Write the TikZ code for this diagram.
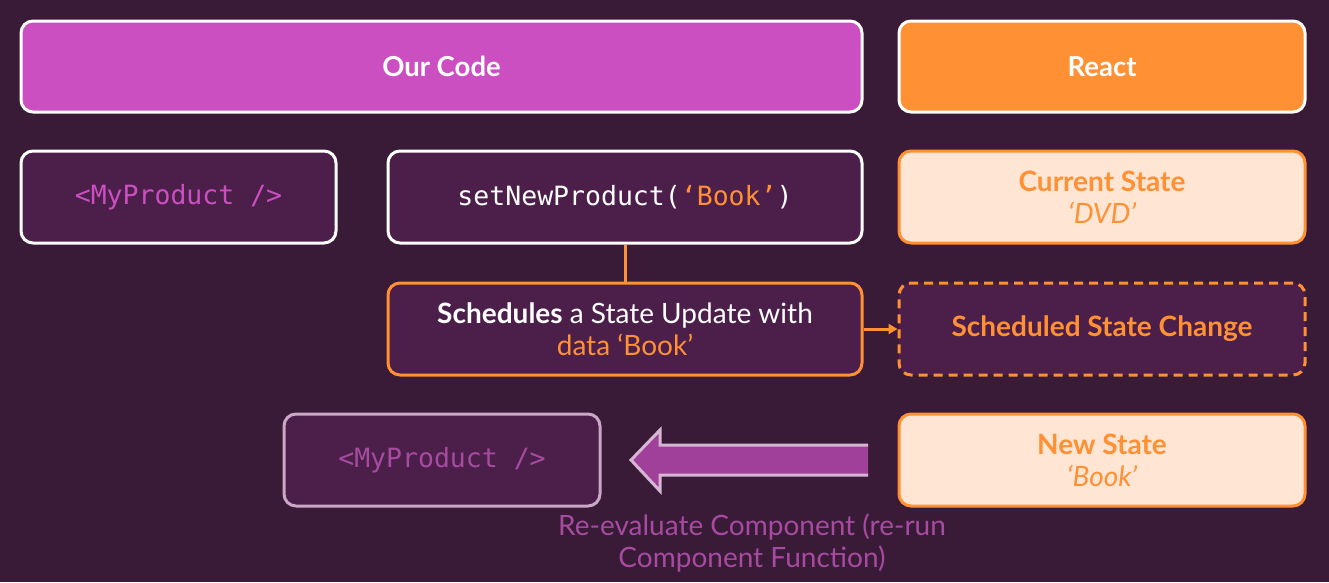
\documentclass[tikz,border=0pt]{standalone}
\usepackage{fontspec}
\setmainfont{Lato}
\setmonofont{DejaVu Sans Mono}
\usetikzlibrary{arrows.meta}
\definecolor{bg}{HTML}{391A37}
\definecolor{boxfill}{HTML}{4B1F4A}
\definecolor{mag}{HTML}{CB4FC1}
\definecolor{org}{HTML}{FF9033}
\definecolor{peach}{HTML}{FFE5D4}
\definecolor{dimline}{HTML}{C9A8C6}
\definecolor{dimtext}{HTML}{A64BA0}
\definecolor{arrfill}{HTML}{A0409A}
\definecolor{arrline}{HTML}{D5B6D3}
\tikzset{
  x=1pt, y=-1pt,
  basebox/.style={rounded corners=12pt, line width=3pt, inner sep=0pt, align=center, font=\fontsize{28}{32}\selectfont},
  headbox/.style={basebox, draw=white, text=white, font=\fontsize{27.5}{32}\selectfont\bfseries},
  codebox/.style={basebox, draw=white, fill=boxfill, text=white, font=\fontsize{26.5}{32}\selectfont\ttfamily},
  statebox/.style={basebox, draw=org, fill=peach, text=org},
  darkorg/.style={basebox, draw=org, fill=boxfill, text=white},
}
\begin{document}
\begin{tikzpicture}
\fill[bg] (0,0) rectangle (1329,582);
\useasboundingbox (0,0) rectangle (1329,582);
% header
\node[headbox, fill=mag, minimum width=841pt, minimum height=91pt] (our) at (441.5,66.5) {Our Code};
\node[headbox, fill=org, minimum width=406pt, minimum height=91pt] (react) at (1102,66.5) {React};
% row 2
\node[codebox, minimum width=315pt, minimum height=92pt, text=mag] (mp1) at (178.5,197) {<MyProduct />};
\node[codebox, minimum width=474pt, minimum height=92pt] (setp) at (625,197) {setNewProduct(\textcolor{org}{‘Book’})};
\node[statebox, minimum width=406pt, minimum height=92pt] (cur) at (1102,197) {\bfseries Current State\\\itshape ‘DVD’};
% row 3
\node[darkorg, minimum width=474pt, minimum height=92pt] (sched) at (625,329) {\textbf{Schedules} a State Update with\\\textcolor{org}{data ‘Book’}};
\node[basebox, draw=org, dashed, dash pattern=on 9pt off 6pt, fill=boxfill, text=org, minimum width=406pt, minimum height=92pt] (chg) at (1102,329) {\bfseries Scheduled State Change};
% row 4
\node[codebox, draw=dimline, text=dimtext, minimum width=316pt, minimum height=92pt] (mp2) at (442,460) {<MyProduct />};
\node[statebox, minimum width=406pt, minimum height=92pt] (new) at (1102,460) {\bfseries New State\\\itshape ‘Book’};
% connectors
\draw[org, line width=3pt] (setp.south) -- (sched.north);
\draw[org, line width=3pt, -{Triangle[length=9pt,width=10pt]}] (sched.east) -- (chg.west);
% big arrow
\draw[arrline, fill=arrfill, line width=3pt, line join=miter]
  (868,445) -- (660,445) -- (660,430) -- (631,460) -- (660,491) -- (660,475) -- (868,475);
\node[text=dimtext, align=center, font=\fontsize{28}{32}\selectfont] (lbl) at (752,543) {Re-evaluate Component (re-run\\Component Function)};
\end{tikzpicture}
\end{document}
